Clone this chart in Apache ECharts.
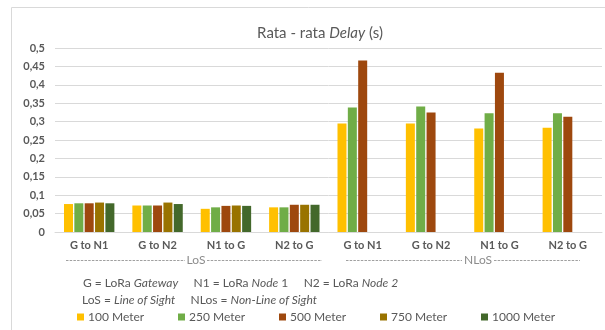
<!DOCTYPE html>
<html><head><meta charset="utf-8">
<script src="https://cdn.jsdelivr.net/npm/echarts@6/dist/echarts.min.js"></script>
<style>html,body{margin:0;padding:0;background:#fff}#c{width:605px;height:330px}</style>
</head><body><div id="c"></div>
<script>
const categories = ['G to N1','G to N2','N1 to G','N2 to G','G to N1','G to N2','N1 to G','N2 to G'];
const seriesNames = ['100 Meter','250 Meter','500 Meter','750 Meter','1000 Meter'];
const m100  = [0.076,0.072,0.063,0.067,0.295,0.295,0.281,0.283];
const m250  = [0.078,0.072,0.067,0.067,0.338,0.341,0.323,0.323];
const m500  = [0.078,0.072,0.071,0.074,0.466,0.325,0.433,0.313];
const m750  = [0.080,0.080,0.072,0.074,null,null,null,null];
const m1000 = [0.078,0.076,0.071,0.074,null,null,null,null];
const colors = ['#FFC000','#70AD47','#9E480E','#997300','#43682B'];
const yTicks = {min:0, max:0.5, interval:0.05};

const FONT = 'Lato, "Open Sans", sans-serif';
const values = [m100,m250,m500,m750,m1000];
const chart = echarts.init(document.getElementById('c'), null, {renderer:'canvas'});
const dashStyle = {stroke:'#a0a0a0', lineWidth:1, lineDash:[2.5,1.2]};
const legends = seriesNames.map((n,i)=>({
  data:[n], left:77 + i*101, top:306, icon:'rect', itemWidth:7, itemHeight:7, itemGap:4, padding:[5,0,5,0],
  textStyle:{fontFamily:FONT, fontSize:12, color:'#595959', padding:[0,0,0,-1]}
}));
chart.setOption({
  animation:false,
  color: colors,
  title:{
    text:'Rata - rata {i|Delay} (s)',
    left:315, top:21, textAlign:'center',
    textStyle:{fontFamily:FONT, fontSize:15, fontWeight:'normal', color:'#595959',
      rich:{i:{fontFamily:FONT, fontSize:15, fontStyle:'italic', color:'#595959'}}}
  },
  grid:{left:55, right:3, top:48, bottom:98},
  xAxis:{
    type:'category', data:categories,
    axisLine:{show:true, lineStyle:{color:'#d9d9d9'}},
    axisTick:{show:false},
    axisLabel:{fontFamily:FONT, fontSize:11, fontWeight:'bold', color:'#595959', margin:8}
  },
  yAxis:{
    type:'value', min:yTicks.min, max:yTicks.max, interval:yTicks.interval,
    axisLine:{show:false}, axisTick:{show:false},
    splitLine:{lineStyle:{color:'#d9d9d9'}},
    axisLabel:{fontFamily:FONT, fontSize:11, fontWeight:'bold', color:'#595959', margin:10,
      formatter:v=>String(+v.toFixed(2)).replace('.',',')}
  },
  legend: legends,
  graphic:[
    {type:'rect', shape:{x:11.5, y:7.5, width:600, height:330}, style:{fill:null, stroke:'#d9d9d9', lineWidth:1}, silent:true},
    {type:'line', shape:{x1:66, y1:260.5, x2:185, y2:260.5}, style:dashStyle},
    {type:'line', shape:{x1:207, y1:260.5, x2:322, y2:260.5}, style:dashStyle},
    {type:'text', x:196, y:260, style:{text:'LoS', font:'12px '+FONT, fill:'#8c8c8c', align:'center', verticalAlign:'middle'}},
    {type:'line', shape:{x1:346, y1:260.5, x2:462, y2:260.5}, style:dashStyle},
    {type:'line', shape:{x1:494, y1:260.5, x2:580, y2:260.5}, style:dashStyle},
    {type:'text', x:478, y:260, style:{text:'NLoS', font:'12px '+FONT, fill:'#8c8c8c', align:'center', verticalAlign:'middle'}},
    {type:'text', left:83, top:277, style:{
      text:'G = LoRa {i|Gateway}     N1 = LoRa {i|Node} 1     N2 = LoRa {i|Node 2}',
      font:'12px '+FONT, fill:'#595959',
      rich:{i:{fontStyle:'italic', fontFamily:FONT, fontSize:12, fill:'#595959'}}}},
    {type:'text', left:82, top:294, style:{
      text:'LoS = {i|Line of Sight}     NLos = {i|Non-Line of Sight}',
      font:'12px '+FONT, fill:'#595959',
      rich:{i:{fontStyle:'italic', fontFamily:FONT, fontSize:12, fill:'#595959'}}}}
  ],
  series: seriesNames.map((n,i)=>({
    name:n, type:'bar', data:values[i], barWidth:9, barGap:'15%'
  }))
});
</script></body></html>
